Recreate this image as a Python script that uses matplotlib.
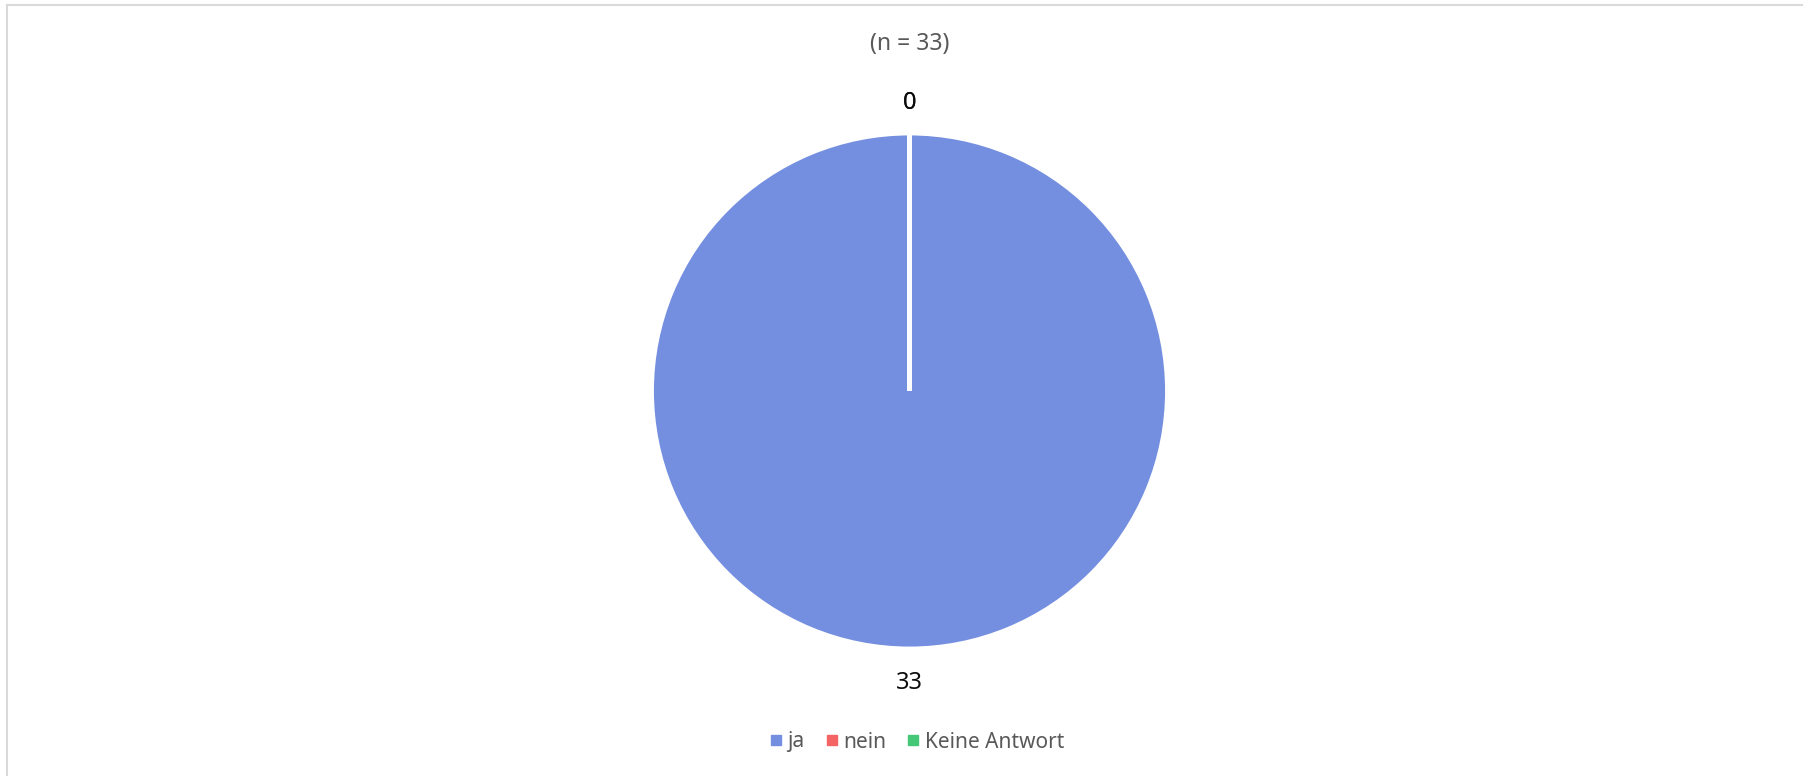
import matplotlib.pyplot as plt
import numpy as np
from matplotlib.lines import Line2D

categories = ['ja', 'nein', 'Keine Antwort']
counts = [33, 0, 0]
colors = ['#758fe0', '#f56464', '#44c776']
title = '(n = 33)'

plt.rcParams['font.family'] = ['Noto Sans', 'DejaVu Sans']

W, H = 1803, 776
fig = plt.figure(figsize=(W / 100, H / 100), dpi=100)

# pie placement in pixels
cx, cy, r = 909.5, 391, 258
ax = fig.add_axes([(cx - r) / W, (H - cy - r) / H, 2 * r / W, 2 * r / H])

wedges, _ = ax.pie(counts, colors=colors, startangle=90, counterclock=False,
                   radius=1, wedgeprops=dict(edgecolor='white', linewidth=3.5))
ax.set_xlim(-1, 1)
ax.set_ylim(-1, 1)
ax.set_aspect('equal')
ax.axis('off')

# data labels outside each wedge
for w, v in zip(wedges, counts):
    ang = np.deg2rad((w.theta1 + w.theta2) / 2)
    d = 1.115 if v == 0 else 1.13
    ax.text(d * np.cos(ang), d * np.sin(ang), str(v), ha='center', va='center',
            fontsize=17, color='#0d0d0d')

fig.text(cx / W, 1 - 44 / H, title, ha='center', va='center', fontsize=16.5, color='#595959')

handles = [Line2D([], [], marker='s', linestyle='', markersize=7,
                  markerfacecolor=c, markeredgecolor=c) for c in colors]
fig.legend(handles, categories, loc='center', bbox_to_anchor=(916 / W, 34 / H),
           ncol=3, frameon=False, fontsize=15, labelcolor='#595959',
           handletextpad=0.15, columnspacing=0.9, handlelength=0.8)

# chart area border (left and top)
fig.add_artist(Line2D([7 / W, 7 / W], [0, 1 - 5 / H], color='#d9d9d9', linewidth=1.5))
fig.add_artist(Line2D([7 / W, 1], [1 - 5 / H, 1 - 5 / H], color='#d9d9d9', linewidth=1.5))

fig.savefig('out.png', dpi=100)
